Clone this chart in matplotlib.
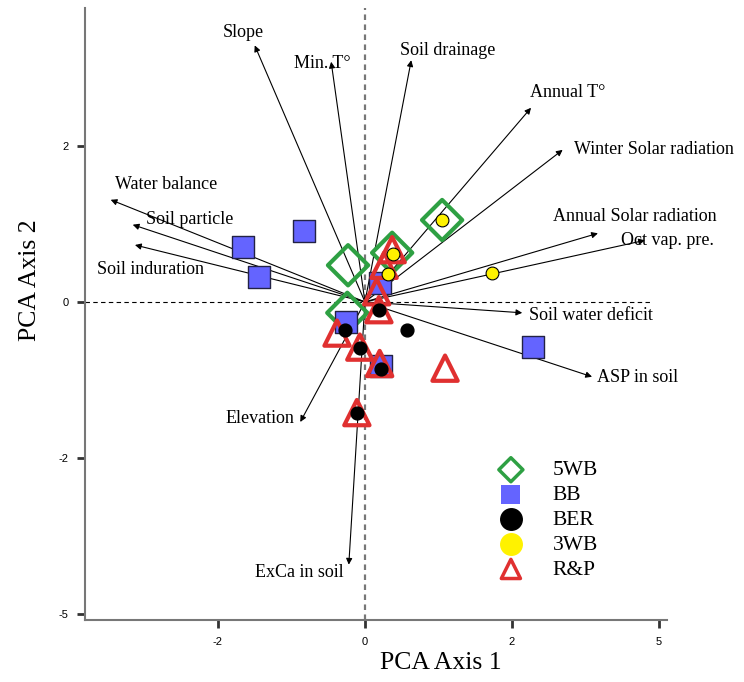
import matplotlib.pyplot as plt
from matplotlib.ticker import FixedLocator, FixedFormatter

# Environmental variable loadings (arrow tips)
var_names = ['Slope', 'Min. T°', 'Soil drainage', 'Annual T°', 'Winter Solar radiation',
             'Annual Solar radiation', 'Oct vap. pre.', 'Soil water deficit', 'ASP in soil',
             'Elevation', 'ExCa in soil', 'Water balance', 'Soil particle', 'Soil induration']
var_x = [-1.50, -0.46, 0.63, 2.26, 2.69, 3.17, 3.81, 2.14, 3.09, -0.88, -0.22, -3.46, -3.16, -3.13]
var_y = [3.29, 3.08, 3.10, 2.49, 1.95, 0.88, 0.79, -0.14, -0.96, -1.54, -3.37, 1.31, 0.99, 0.73]

# Site scores per group
wb5_x = [-0.23, 0.37, 1.05, -0.24]
wb5_y = [0.47, 0.63, 1.05, -0.14]
bb_x = [-1.66, -0.83, -1.44, 0.20, -0.26, 0.22, 2.29]
bb_y = [0.71, 0.91, 0.32, 0.24, -0.26, -0.82, -0.58]
ber_x = [-0.27, 0.57, 0.19, -0.07, -0.11, 0.22]
ber_y = [-0.36, -0.36, -0.10, -0.59, -1.42, -0.86]
wb3_x = [1.05, 0.38, 0.31, 1.73]
wb3_y = [1.05, 0.62, 0.36, 0.37]
rp_x = [0.37, 0.26, 0.16, 0.19, -0.38, -0.07, 0.20, 1.09, -0.11]
rp_y = [0.67, 0.47, 0.13, -0.10, -0.40, -0.58, -0.79, -0.85, -1.42]

tick_pos_x = [-2, 0, 2, 4]
tick_lab_x = ['-2', '0', '2', '5']
tick_pos_y = [2, 0, -2, -4]
tick_lab_y = ['2', '0', '-2', '-5']

# Label anchors (left edge, vertical centre) for each variable
label_pos = {
    'Slope': (-1.93, 3.46), 'Min. T°': (-0.97, 3.06), 'Soil drainage': (0.48, 3.23),
    'Annual T°': (2.24, 2.68), 'Winter Solar radiation': (2.84, 1.96),
    'Annual Solar radiation': (2.56, 1.09), 'Oct vap. pre.': (3.48, 0.79),
    'Soil water deficit': (2.23, -0.17), 'ASP in soil': (3.16, -0.97),
    'Elevation': (-1.90, -1.49), 'ExCa in soil': (-1.50, -3.47),
    'Water balance': (-3.40, 1.50), 'Soil particle': (-2.98, 1.06),
    'Soil induration': (-3.65, 0.41),
}

serif = 'Liberation Serif'
green = '#2EA043'
blue = '#6464FF'
red = '#E03030'

fig = plt.figure(figsize=(7.44, 6.82), dpi=100)
ax = fig.add_axes([0.1142, 0.0909, 0.7823, 0.8974])
ax.set_xlim(-3.81, 4.11)
ax.set_ylim(-4.08, 3.77)

# Reference lines through the origin
ax.plot([-3.81, 3.88], [0, 0], color='black', lw=0.8, ls=(0, (4, 3)), zorder=1)
ax.axvline(0, color='#777777', lw=1.6, ls=(0, (2.5, 2)), zorder=1)

# Variable arrows and labels
for name, x, y in zip(var_names, var_x, var_y):
    ax.annotate('', xy=(x, y), xytext=(0, 0),
                arrowprops=dict(arrowstyle='-|>', color='black', lw=0.8,
                                mutation_scale=9, shrinkA=0, shrinkB=0), zorder=2)
    lx, ly = label_pos[name]
    ax.text(lx, ly, name, family=serif, fontsize=13, ha='left', va='center', zorder=3)

# Site scores
ax.scatter(wb5_x, wb5_y, marker='D', s=420, facecolors='none', edgecolors=green,
           linewidths=3, zorder=4)
ax.scatter(bb_x, bb_y, marker='s', s=240, facecolors=blue, edgecolors='#222244',
           linewidths=1, zorder=5)
ax.scatter(rp_x, rp_y, marker='^', s=330, facecolors='none', edgecolors=red,
           linewidths=3, zorder=6)
ax.scatter(ber_x, ber_y, marker='o', s=85, color='black', zorder=7)
ax.scatter(wb3_x, wb3_y, marker='o', s=85, facecolors='#FFF200', edgecolors='black',
           linewidths=0.8, zorder=8)

# Legend
h1 = ax.scatter([], [], marker='D', s=150, facecolors='none', edgecolors=green, linewidths=2.5)
h2 = ax.scatter([], [], marker='s', s=190, facecolors=blue, edgecolors='none')
h3 = ax.scatter([], [], marker='o', s=240, color='black')
h4 = ax.scatter([], [], marker='o', s=240, color='#FFF200')
h5 = ax.scatter([], [], marker='^', s=190, facecolors='none', edgecolors=red, linewidths=2.5)
ax.legend([h1, h2, h3, h4, h5], ['5WB', 'BB', 'BER', '3WB', 'R&P'],
          loc='upper left', bbox_to_anchor=(0.68, 0.275), frameon=False,
          prop={'family': serif, 'size': 15.5}, handletextpad=0.93, labelspacing=0.22,
          borderaxespad=0)

# Axes styling
for side in ['top', 'right']:
    ax.spines[side].set_visible(False)
for side in ['left', 'bottom']:
    ax.spines[side].set_color('#777777')
    ax.spines[side].set_linewidth(1.5)
ax.xaxis.set_major_locator(FixedLocator(tick_pos_x))
ax.xaxis.set_major_formatter(FixedFormatter(tick_lab_x))
ax.yaxis.set_major_locator(FixedLocator(tick_pos_y))
ax.yaxis.set_major_formatter(FixedFormatter(tick_lab_y))
ax.tick_params(direction='out', length=6, width=2, color='#333333',
               labelsize=8, labelfontfamily='Liberation Sans', pad=6)

ax.set_xlabel('PCA Axis 1', family=serif, fontsize=18.5, va='center')
ax.xaxis.set_label_coords(0.612, -0.070)
ax.set_ylabel('PCA Axis 2', family=serif, fontsize=18.5, va='center')
ax.yaxis.set_label_coords(-0.094, 0.556)

fig.savefig('out.png', dpi=100)
